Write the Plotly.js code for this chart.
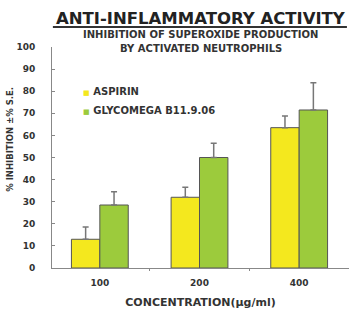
<!DOCTYPE html>
<html>
<head>
<meta charset="utf-8">
<script src="https://cdn.plot.ly/plotly-3.0.1.min.js"></script>
<style>html,body{margin:0;padding:0;background:#fff;}#chart{width:349px;height:310px;}</style>
</head>
<body>
<div id="chart"></div>
<script>
var categories = ["100", "200", "400"];
var seriesNames = ["ASPIRIN", "GLYCOMEGA B11.9.06"];
var aspirinValues = [13, 32, 63.5];
var aspirinErrors = [5.5, 4.5, 5.3];
var glycomegaValues = [28.5, 50, 71.5];
var glycomegaErrors = [6, 6.5, 12.3];
var yTickValues = [0, 10, 20, 30, 40, 50, 60, 70, 80, 90, 100];

var yellow = "#f4e81e", green = "#9ccb3c";
var zeros = categories.map(function(){return 0;});
function barTrace(name, vals, errs, color){
  return {
    type: "bar", name: name, x: categories, y: vals, showlegend: false,
    marker: {color: color, line: {color: "#555555", width: 1}},
    error_y: {type: "data", array: errs, arrayminus: zeros, symmetric: false,
              color: "#777777", thickness: 1.5, width: 3}
  };
}
function legendTrace(name, color){
  return {type: "scatter", mode: "markers",
    name: "<span style='color:" + color + ";font-size:7px'>\u25a0</span> " + name,
    x: [null], y: [null],
    marker: {size: 0.1, color: "rgba(0,0,0,0)", line: {width: 0, color: "rgba(0,0,0,0)"}}};
}
var data = [
  barTrace(seriesNames[0], aspirinValues, aspirinErrors, yellow),
  barTrace(seriesNames[1], glycomegaValues, glycomegaErrors, green),
  legendTrace(seriesNames[0], yellow),
  legendTrace(seriesNames[1], green)
];
var tf = "DejaVu Sans, Arial, sans-serif";
var layout = {
  width: 349, height: 310,
  margin: {l: 52, r: 0, t: 47, b: 42},
  paper_bgcolor: "#fff", plot_bgcolor: "#fff",
  barmode: "group", bargap: 0.43, bargroupgap: 0,
  font: {family: tf, color: "#333"},
  xaxis: {type: "category", range: [-0.48, 2.5], showgrid: false, zeroline: false,
    showline: true, linecolor: "#888", linewidth: 1,
    ticks: "outside", ticklen: 2, tickcolor: "#888", tickson: "boundaries",
    tickfont: {size: 9, color: "#333", weight: "bold"}, ticklabelstandoff: 6,
    title: {text: "CONCENTRATION(\u03bcg/ml)", font: {size: 11, color: "#333", weight: "bold"}, standoff: 11}},
  yaxis: {range: [0, 100], tickvals: yTickValues, showgrid: false, zeroline: false,
    showline: true, linecolor: "#888", linewidth: 1,
    ticks: "inside", ticklen: 3, tickcolor: "#888",
    tickfont: {size: 9, color: "#333", weight: "bold"}, ticklabelstandoff: 14},
  legend: {x: -0.03, y: 0.864, xanchor: "left", yanchor: "top", bgcolor: "rgba(0,0,0,0)",
    font: {size: 10, color: "#333", weight: "bold"}, itemwidth: 30, tracegroupgap: 0},
  showlegend: true,
  annotations: [
    {text: "<b>ANTI-INFLAMMATORY ACTIVITY</b>", xref: "paper", yref: "paper",
     x: 0.5, y: 1.129, xanchor: "center", yanchor: "middle", showarrow: false,
     font: {size: 16.5, color: "#222", family: tf}},
    {text: "INHIBITION OF SUPEROXIDE PRODUCTION", xref: "paper", yref: "paper",
     x: 0.5, y: 1.0543, xanchor: "center", yanchor: "middle", showarrow: false,
     font: {size: 10, color: "#333", family: tf, weight: "bold"}},
    {text: "BY ACTIVATED NEUTROPHILS", xref: "paper", yref: "paper",
     x: 0.5, y: 0.991, xanchor: "center", yanchor: "middle", showarrow: false,
     font: {size: 10, color: "#333", family: tf, weight: "bold"}},
    {text: "% INHIBITION \u00b1% S.E.", xref: "paper", yref: "paper", textangle: -90,
     x: -0.1414, y: 0.58, xanchor: "center", yanchor: "middle", showarrow: false,
     font: {size: 8.5, color: "#333", family: tf, weight: "bold"}}
  ],
  shapes: [
    {type: "line", xref: "paper", yref: "paper", x0: 0.003, x1: 0.993, y0: 1.0905, y1: 1.0905,
     line: {color: "#333", width: 2}}
  ]
};
Plotly.newPlot("chart", data, layout, {displayModeBar: false, staticPlot: true});
</script>
</body>
</html>
